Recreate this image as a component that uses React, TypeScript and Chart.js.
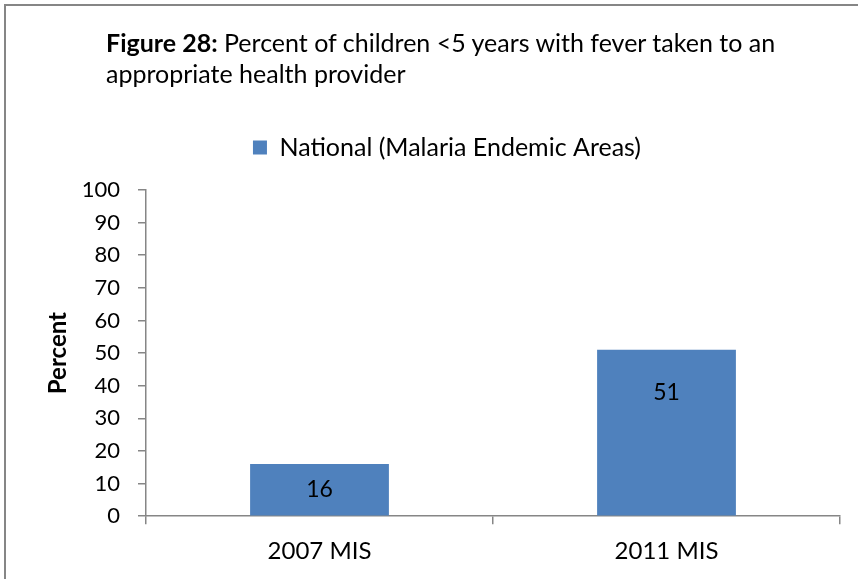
import React, { useEffect, useRef } from "react";
import { Chart, registerables } from "chart.js";

Chart.register(...registerables);

const surveys = ["2007 MIS", "2011 MIS"];
const nationalPercent = [16, 51];
const yTicks = [0, 10, 20, 30, 40, 50, 60, 70, 80, 90, 100];
const seriesName = "National (Malaria Endemic Areas)";

const FONT = "Lato, 'Open Sans', sans-serif";
const BAR_BLUE = "#4F81BD";
const AXIS_GREY = "#868686";

// Writes each bar's value inside the bar: a fixed distance below its top,
// but never lower than the middle of a short bar.
const valueLabels = {
  id: "valueLabels",
  afterDatasetsDraw(chart: any) {
    const { ctx } = chart;
    const meta = chart.getDatasetMeta(0);
    ctx.save();
    ctx.font = `23px ${FONT}`;
    ctx.fillStyle = "#000";
    ctx.textAlign = "center";
    ctx.textBaseline = "middle";
    meta.data.forEach((bar: any, i: number) => {
      const top = bar.y;
      const bottom = bar.base;
      const y = Math.min(top + 43, (top + bottom) / 2);
      ctx.fillText(String(nationalPercent[i]), bar.x, y);
    });
    ctx.restore();
  },
};

// Leaves extra room between the legend and the plot area.
const legendGap = {
  id: "legendGap",
  beforeInit(chart: any) {
    const legend = chart.legend;
    if (!legend) return;
    const fit = legend.fit;
    legend.fit = function () {
      fit.call(this);
      this.height += 20;
    };
  },
};

function BarChart() {
  const canvasRef = useRef<HTMLCanvasElement | null>(null);

  useEffect(() => {
    const canvas = canvasRef.current;
    if (!canvas) return;
    const chart = new Chart(canvas, {
      type: "bar",
      data: {
        labels: surveys,
        datasets: [
          {
            label: seriesName,
            data: nationalPercent,
            backgroundColor: BAR_BLUE,
            borderWidth: 0,
            barPercentage: 0.4,
            categoryPercentage: 1,
          },
        ],
      },
      options: {
        animation: false,
        responsive: false,
        maintainAspectRatio: false,
        layout: { padding: { top: 125, right: 18, bottom: 0, left: 54 } },
        plugins: {
          legend: {
            display: true,
            position: "top",
            labels: {
              color: "#000",
              font: { family: FONT, size: 25 },
              boxWidth: 14,
              boxHeight: 14,
              padding: 10,
            },
          },
          tooltip: { enabled: false },
          title: { display: false },
        },
        scales: {
          x: {
            type: "category",
            grid: {
              display: true,
              offset: true,
              drawOnChartArea: false,
              drawTicks: true,
              tickLength: 8,
              color: AXIS_GREY,
              lineWidth: 1.5,
            },
            border: { display: true, color: AXIS_GREY, width: 1.5 },
            ticks: {
              color: "#000",
              font: { family: FONT, size: 24 },
              padding: 13,
              maxRotation: 0,
            },
          },
          y: {
            type: "linear",
            min: 0,
            max: 100,
            afterBuildTicks(scale: any) {
              scale.ticks = yTicks.map((v) => ({ value: v }));
            },
            afterFit(scale: any) {
              scale.width = 92;
            },
            grid: {
              display: true,
              drawOnChartArea: false,
              drawTicks: true,
              tickLength: 8,
              color: AXIS_GREY,
              lineWidth: 1.5,
            },
            border: { display: true, color: AXIS_GREY, width: 1.5 },
            ticks: {
              color: "#000",
              font: { family: FONT, size: 22 },
              padding: 18,
            },
            title: {
              display: true,
              text: "Percent",
              color: "#000",
              font: { family: FONT, size: 24, weight: "bold" },
              padding: { top: -10, bottom: 0 },
            },
          },
        },
      },
      plugins: [legendGap, valueLabels],
    });
    return () => chart.destroy();
  }, []);

  return (
    <canvas
      ref={canvasRef}
      width={858}
      height={579}
      style={{ position: "absolute", left: 0, top: 0, width: 858, height: 579 }}
    />
  );
}

export default function App() {
  return (
    <div
      style={{
        position: "fixed",
        left: 0,
        top: 0,
        width: 858,
        height: 579,
        overflow: "hidden",
        background: "#fff",
      }}
    >
      <div
        style={{
          position: "absolute",
          left: 4,
          top: 4,
          width: 1000,
          height: 1000,
          border: `2px solid ${AXIS_GREY}`,
        }}
      />
      <BarChart />
      <div
        style={{
          position: "absolute",
          left: 106,
          top: 27,
          width: 740,
          fontFamily: FONT,
          fontSize: 25,
          lineHeight: "31px",
          color: "#000",
          whiteSpace: "nowrap",
        }}
      >
        <b>Figure 28:</b> Percent of children &lt;5 years with fever taken to an
        <br />
        appropriate health provider
      </div>
    </div>
  );
}
